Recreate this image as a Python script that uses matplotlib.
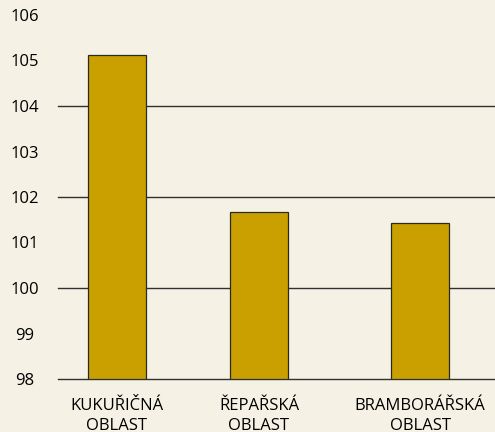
import numpy as np
import matplotlib.pyplot as plt

categories = ['KUKUŘIČNÁ\nOBLAST', 'ŘEPAŘSKÁ\nOBLAST', 'BRAMBORÁŘSKÁ\nOBLAST']
values = [105.12, 101.66, 101.43]
positions = [0, 1, 2.134]

bg = '#f5f2e5'
bar_color = '#c9a000'

plt.rcParams['font.family'] = ['Open Sans', 'DejaVu Sans']

fig = plt.figure(figsize=(4.95, 4.32), dpi=100, facecolor=bg)
ax = fig.add_axes([58 / 495, 53 / 432, 437 / 495, 364 / 432], facecolor=bg)

base = 98
ax.bar(positions, np.array(values) - base, bottom=base, width=0.41,
       color=bar_color, edgecolor='#2a2a20', linewidth=0.9, zorder=3)

for y in [98, 100, 102, 104]:
    ax.axhline(y, color='#303030', lw=1.0, zorder=1, clip_on=False)

ax.set_ylim(98, 106)
ax.set_xlim(-0.415, 2.662)
ax.set_yticks(range(98, 107))
ax.set_xticks(positions)
ax.set_xticklabels(categories, fontsize=12, linespacing=1.35)
ax.tick_params(axis='x', length=0, pad=13.5)
ax.tick_params(axis='y', length=0, pad=24, labelsize=12)
for t in ax.get_yticklabels():
    t.set_horizontalalignment('center')
for s in ax.spines.values():
    s.set_visible(False)

fig.savefig('out.png', dpi=100, facecolor=bg)
